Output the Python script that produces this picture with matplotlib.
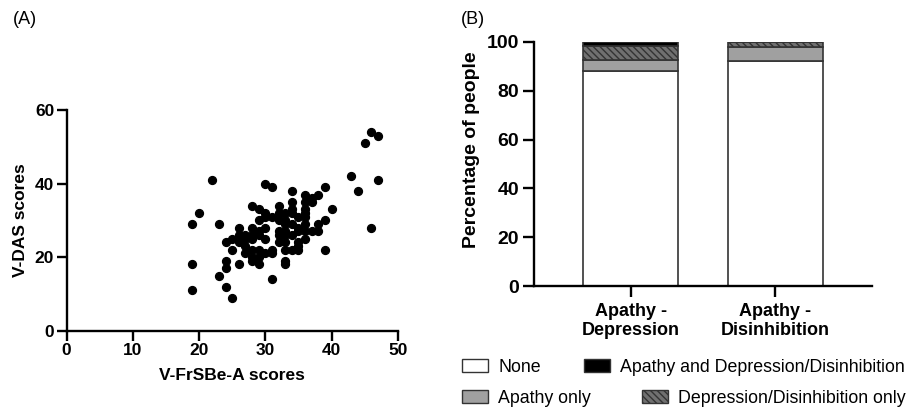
import numpy as np
import matplotlib
matplotlib.use("Agg")
import matplotlib.pyplot as plt
from matplotlib.patches import Patch

plt.rcParams['font.family'] = ['Liberation Sans', 'DejaVu Sans']
plt.rcParams['hatch.linewidth'] = 1.0

# (A) scatter: V-FrSBe-A vs V-DAS
frsbe = [19, 20, 22, 19, 19, 23, 23, 24, 24, 24, 24, 25, 25, 25, 26, 26, 26, 26,
         27, 27, 27, 27, 28, 28, 28, 28, 28, 28, 28, 29, 29, 29, 29, 29, 29, 29,
         30, 31, 30, 30, 31, 30, 30, 30, 31, 31, 31, 32, 32, 32, 32, 32, 32,
         33, 33, 33, 33, 33, 33, 33, 33, 33, 34, 34, 34, 34, 34, 34, 34,
         35, 35, 35, 35, 35, 35, 36, 36, 36, 36, 36, 36, 36, 36, 37, 37, 37,
         38, 38, 38, 39, 39, 39, 40, 43, 44, 45, 46, 47, 47, 46]
das = [29, 32, 41, 18, 11, 29, 15, 24, 19, 17, 12, 9, 25, 22, 28, 26, 24, 18,
       26, 25, 23, 21, 34, 28, 26, 25, 22, 20, 19, 33, 30, 27, 26, 22, 20, 18,
       40, 39, 32, 31, 31, 28, 25, 21, 22, 21, 14, 34, 32, 30, 27, 26, 24,
       32, 30, 29, 27, 26, 24, 22, 19, 18, 38, 35, 33, 32, 29, 26, 22,
       31, 28, 27, 24, 23, 22, 37, 35, 33, 32, 31, 29, 27, 25, 36, 35, 27,
       37, 29, 27, 39, 30, 22, 33, 42, 38, 51, 54, 53, 41, 28]

# (B) stacked bars (percent)
groups = ["Apathy -\nDepression", "Apathy -\nDisinhibition"]
none_pct = [88, 92]
apathy_only = [4.5, 6]
other_only = [6, 2]
both_pct = [1.5, 0]

fig = plt.figure(figsize=(9.07, 4.11), dpi=100)

# ---- panel A ----
ax1 = fig.add_axes([0.0735, 0.1954, 0.365, 0.537])
ax1.scatter(frsbe, das, s=32, color='black', zorder=3, clip_on=False)
ax1.set_xlim(0, 50)
ax1.set_ylim(0, 60)
ax1.set_xticks([0, 10, 20, 30, 40, 50])
ax1.set_yticks([0, 20, 40, 60])
for s in ['top', 'right']:
    ax1.spines[s].set_visible(False)
for s in ['left', 'bottom']:
    ax1.spines[s].set_linewidth(1.7)
ax1.tick_params(width=1.7, length=7, labelsize=12.5, pad=2)
for lab in ax1.get_xticklabels() + ax1.get_yticklabels():
    lab.set_fontweight('bold')
ax1.set_xlabel("V-FrSBe-A scores", fontsize=12.5, fontweight='bold', labelpad=7)
ax1.set_ylabel("V-DAS scores", fontsize=12.5, fontweight='bold', labelpad=5)

# ---- panel B ----
ax2 = fig.add_axes([0.589, 0.304, 0.372, 0.594])
x = np.arange(len(groups))
w = 0.658
ec = '#333333'
b0 = np.zeros(len(groups))
ax2.bar(x, none_pct, w, bottom=b0, color='white', edgecolor=ec, linewidth=1.2)
b0 = b0 + none_pct
ax2.bar(x, apathy_only, w, bottom=b0, color='#a0a0a0', edgecolor=ec, linewidth=1.2)
b0 = b0 + apathy_only
ax2.bar(x, other_only, w, bottom=b0, color='#707070', edgecolor=ec, linewidth=1.2, hatch='\\\\\\\\\\')
b0 = b0 + other_only
ax2.bar(x, both_pct, w, bottom=b0, color='black', edgecolor=ec, linewidth=1.2)

ax2.set_xlim(-0.668, 1.668)
ax2.set_ylim(0, 100)
ax2.set_yticks([0, 20, 40, 60, 80, 100])
ax2.set_xticks(x)
ax2.set_xticklabels(groups, fontsize=13, fontweight='bold', linespacing=1.15)
for s in ['top', 'right']:
    ax2.spines[s].set_visible(False)
for s in ['left', 'bottom']:
    ax2.spines[s].set_linewidth(1.7)
ax2.tick_params(width=1.7, length=8, pad=3)
ax2.tick_params(axis='x', pad=4)
ax2.tick_params(axis='y', labelsize=14)
for lab in ax2.get_yticklabels():
    lab.set_fontweight('bold')
ax2.set_ylabel("Percentage of people", fontsize=14, fontweight='bold')
ax2.yaxis.set_label_coords(-0.16, 0.56)

# panel letters
fig.text(13 / 907, 1 - 20 / 411, "(A)", fontsize=13, va='center', ha='left')
fig.text(461 / 907, 1 - 20 / 411, "(B)", fontsize=13, va='center', ha='left')

# legend entries, placed one by one
entries = [
    (Patch(facecolor='white', edgecolor=ec), "None", 462, 367),
    (Patch(facecolor='#a0a0a0', edgecolor=ec), "Apathy only", 462, 398),
    (Patch(facecolor='black', edgecolor=ec), "Apathy and Depression/Disinhibition", 584, 367),
    (Patch(facecolor='#707070', edgecolor=ec, hatch='\\\\\\\\\\'), "Depression/Disinhibition only", 642, 398),
]
for h, lab, px, py in entries:
    fig.legend([h], [lab], loc='center left', bbox_to_anchor=(px / 907, 1 - py / 411),
               frameon=False, fontsize=12.8, handlelength=1.45, handleheight=0.75,
               handletextpad=0.6, borderpad=0, borderaxespad=0)

fig.savefig("out.png", dpi=100)
